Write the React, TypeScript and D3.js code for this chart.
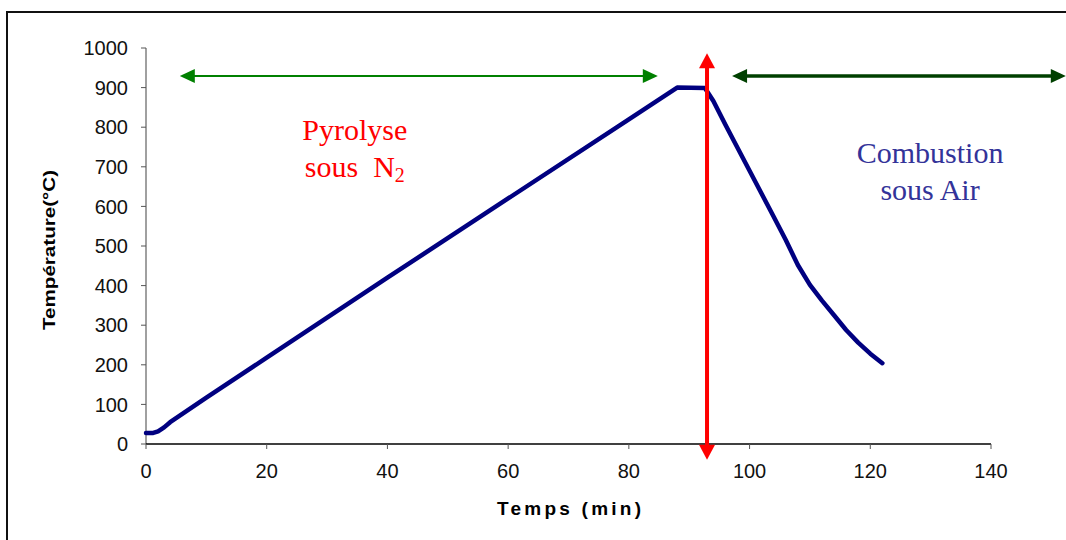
import React from "react";
import * as d3 from "d3";

const tempsMin = [0, 1.2, 2, 3, 4, 10, 20, 40, 60, 80, 88, 92.6, 94, 96, 98, 100, 102, 104, 106, 108, 110, 112, 114, 116, 118, 120, 122];
const temperature = [28, 28, 32, 42, 55, 117, 218, 420, 620, 820, 900, 899, 866, 806, 748, 690, 632, 574, 515, 452, 402, 362, 325, 288, 256, 228, 204];
const xTicks = [0, 20, 40, 60, 80, 100, 120, 140];
const yTicks = [0, 100, 200, 300, 400, 500, 600, 700, 800, 900, 1000];

const W = 1066;
const H = 540;

function arrowHead(tipX: number, tipY: number, dir: "left" | "right" | "up" | "down", len: number, half: number) {
  switch (dir) {
    case "left":
      return `M${tipX},${tipY} L${tipX + len},${tipY - half} L${tipX + len},${tipY + half} Z`;
    case "right":
      return `M${tipX},${tipY} L${tipX - len},${tipY - half} L${tipX - len},${tipY + half} Z`;
    case "up":
      return `M${tipX},${tipY} L${tipX - half},${tipY + len} L${tipX + half},${tipY + len} Z`;
    default:
      return `M${tipX},${tipY} L${tipX - half},${tipY - len} L${tipX + half},${tipY - len} Z`;
  }
}

export default function App() {
  const x = d3.scaleLinear().domain([0, 140]).range([146, 991]);
  const y = d3.scaleLinear().domain([0, 1000]).range([444, 48]);
  const pts = tempsMin.map((t, i) => [t, temperature[i]] as [number, number]);
  const line = d3
    .line<[number, number]>()
    .x((d) => x(d[0]))
    .y((d) => y(d[1]))
    .curve(d3.curveLinear);

  // annotation anchors in data units
  const gA = { x1: x(5.6), x2: x(84.8), y: y(929) };
  const dA = { x1: x(97.1), x2: x(152.4), y: y(929) };
  const rA = { x: x(92.95), y1: y(987), y2: y(-40) };

  const axisFont = "'Liberation Sans', Arial, sans-serif";
  const serif = "'Liberation Serif', 'Times New Roman', serif";

  return (
    <svg width={W} height={H} style={{ position: "absolute", left: 0, top: 0, background: "#fff" }}>
      <rect x={0} y={0} width={W} height={H} fill="#fff" />
      {/* frame */}
      <path d={`M7,${H} L7,12 L${W},12`} fill="none" stroke="#111" strokeWidth={2} />

      {/* axes */}
      <line x1={x(0)} x2={x(0)} y1={y(0)} y2={y(1000)} stroke="#808080" strokeWidth={1.5} />
      {yTicks.map((v) => (
        <g key={"y" + v}>
          <line x1={x(0) - 5} x2={x(0)} y1={y(v)} y2={y(v)} stroke="#555" strokeWidth={1} />
          <text x={128} y={y(v)} dy="0.36em" textAnchor="end" fontFamily={axisFont} fontSize={20} fill="#111">
            {v}
          </text>
        </g>
      ))}
      <line x1={x(0)} x2={x(140)} y1={y(0)} y2={y(0)} stroke="#000" strokeWidth={1.5} />
      {xTicks.map((v) => (
        <g key={"x" + v}>
          <line x1={x(v)} x2={x(v)} y1={y(0)} y2={y(0) + 5} stroke="#555" strokeWidth={1} />
          <text x={x(v)} y={478} textAnchor="middle" fontFamily={axisFont} fontSize={20} fill="#111">
            {v}
          </text>
        </g>
      ))}

      {/* axis titles */}
      <text
        transform={`translate(55,250) rotate(-90)`}
        textAnchor="middle"
        fontFamily={axisFont}
        fontWeight="bold"
        fontSize={16}
        textLength={160}
        lengthAdjust="spacingAndGlyphs"
        fill="#000"
      >
        Température(°C)
      </text>
      <text
        x={569}
        y={515}
        textAnchor="middle"
        fontFamily={axisFont}
        fontWeight="bold"
        fontSize={19}
        textLength={144}
        lengthAdjust="spacing"
        fill="#000"
      >
        Temps (min)
      </text>

      {/* data line */}
      <path d={line(pts) || ""} fill="none" stroke="#000080" strokeWidth={4.5} strokeLinejoin="round" strokeLinecap="round" />

      {/* green arrow (pyrolyse) */}
      <line x1={gA.x1 + 12} x2={gA.x2 - 12} y1={gA.y} y2={gA.y} stroke="#008000" strokeWidth={2} />
      <path d={arrowHead(gA.x1, gA.y, "left", 15, 7)} fill="#008000" />
      <path d={arrowHead(gA.x2, gA.y, "right", 15, 7)} fill="#008000" />

      {/* dark green arrow (combustion) */}
      <line x1={dA.x1 + 12} x2={dA.x2 - 12} y1={dA.y} y2={dA.y} stroke="#004000" strokeWidth={3.5} />
      <path d={arrowHead(dA.x1, dA.y, "left", 15, 7)} fill="#004000" />
      <path d={arrowHead(dA.x2, dA.y, "right", 15, 7)} fill="#004000" />

      {/* red arrow */}
      <line x1={rA.x} x2={rA.x} y1={rA.y1 + 12} y2={rA.y2 - 12} stroke="#ff0000" strokeWidth={4} />
      <path d={arrowHead(rA.x, rA.y1, "up", 15, 8)} fill="#ff0000" />
      <path d={arrowHead(rA.x, rA.y2, "down", 15, 8)} fill="#ff0000" />

      {/* labels */}
      <text x={x(34.6)} y={y(768)} textAnchor="middle" fontFamily={serif} fontSize={30} fill="#ff0000">
        Pyrolyse
      </text>
      <text x={x(34.6)} y={y(674)} textAnchor="middle" fontFamily={serif} fontSize={30} fill="#ff0000" xmlSpace="preserve">
        {"sous  N"}
        <tspan fontSize={20} dy={5}>2</tspan>
      </text>
      <text x={x(129.9)} y={y(710)} textAnchor="middle" fontFamily={serif} fontSize={30} fill="#333399">
        Combustion
      </text>
      <text x={x(129.9)} y={y(616)} textAnchor="middle" fontFamily={serif} fontSize={30} fill="#333399">
        sous Air
      </text>
    </svg>
  );
}
